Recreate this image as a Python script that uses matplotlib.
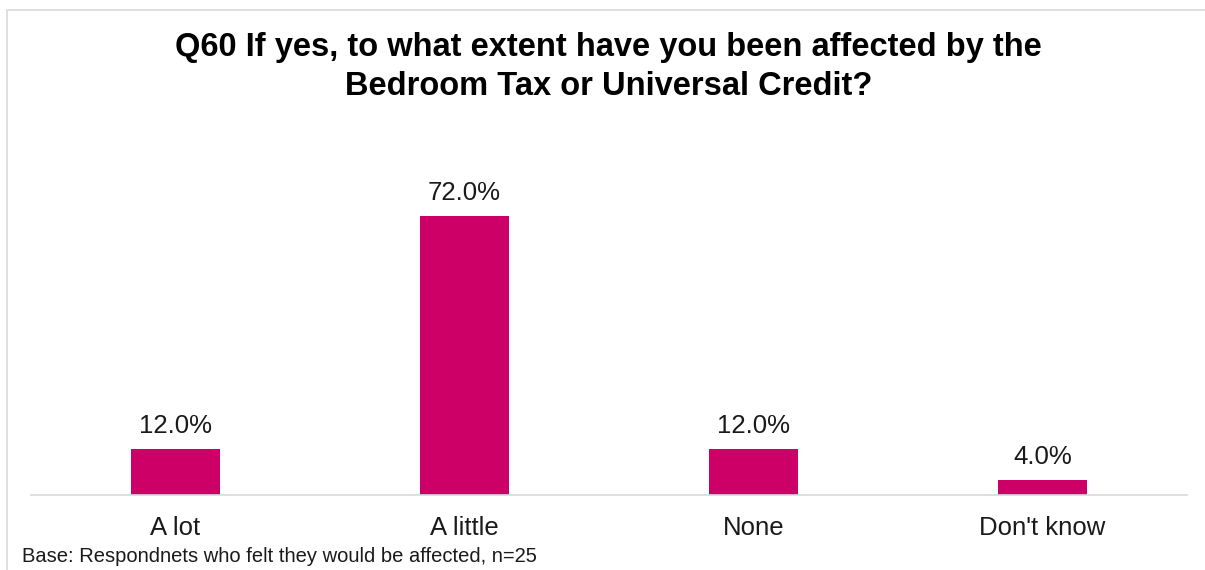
import matplotlib.pyplot as plt
from matplotlib.patches import Rectangle

categories = ["A lot", "A little", "None", "Don't know"]
values = [12.0, 72.0, 12.0, 4.0]

plt.rcParams['font.family'] = ['Liberation Sans', 'DejaVu Sans']

fig = plt.figure(figsize=(12.05, 5.70), dpi=100)
W, H = 1205, 570

# light grey chart border (top and left visible)
fig.add_artist(Rectangle((7 / W, -0.05), 1.2, (H - 10) / H + 0.05,
                         transform=fig.transFigure, fill=False,
                         edgecolor='#d9d9d9', linewidth=1.2))

ax = fig.add_axes([31 / W, (H - 495) / H, 1156 / W, 310 / H])
x = range(len(categories))
bars = ax.bar(x, values, width=0.31, color='#cc0066')
ax.set_xlim(-0.5, len(categories) - 0.5)
ax.set_ylim(0, 80)

for b, v in zip(bars, values):
    ax.text(b.get_x() + b.get_width() / 2, v + 2.8, f"{v:.1f}%",
            ha='center', va='bottom', fontsize=18.5, color='#1a1a1a')

ax.set_xticks(list(x))
ax.set_xticklabels(categories, fontsize=18.5, color='#1a1a1a')
ax.tick_params(axis='x', length=0, pad=15)
ax.set_yticks([])
for s in ['top', 'right', 'left']:
    ax.spines[s].set_visible(False)
ax.spines['bottom'].set_color('#d9d9d9')
ax.spines['bottom'].set_linewidth(1.2)

fig.text(0.505, (H - 67) / H,
         "Q60 If yes, to what extent have you been affected by the\nBedroom Tax or Universal Credit?",
         ha='center', va='center', fontsize=23.5, fontweight='bold',
         linespacing=1.37)
fig.text(22 / W, (H - 557) / H,
         "Base: Respondnets who felt they would be affected, n=25",
         ha='left', va='center', fontsize=14.5, color='#1a1a1a')

fig.savefig("out.png", dpi=100, facecolor='white')
